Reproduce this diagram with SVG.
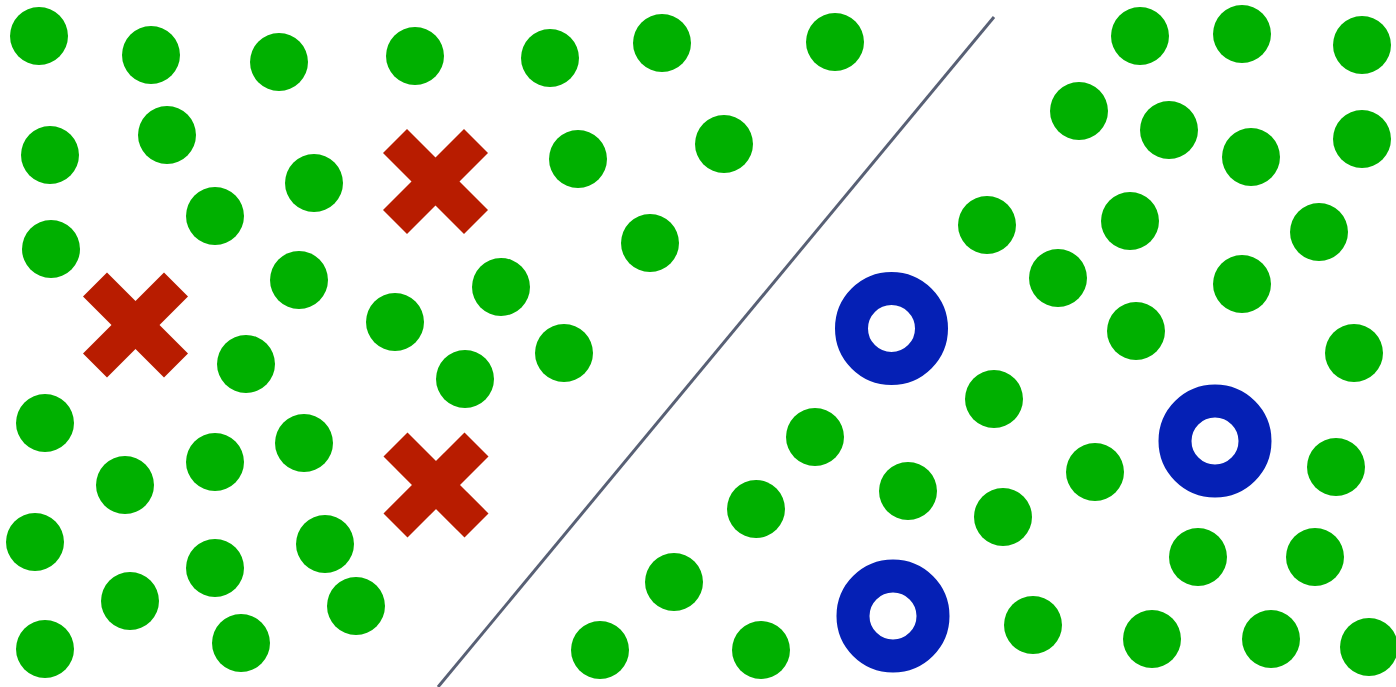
<svg xmlns="http://www.w3.org/2000/svg" width="1396" height="687" viewBox="0 0 1396 687">
<style>
.g{fill:#00b000}
.x{stroke:#b81c00;stroke-width:34;stroke-linecap:butt}
.o{fill:none;stroke:#0520b5;stroke-width:33}
.sep{stroke:#586075;stroke-width:3}
</style>
<defs>
<circle id="d" r="29" class="g"/>
<g id="xm"><line class="x" x1="-40.5" y1="-40.5" x2="40.5" y2="40.5"/><line class="x" x1="40.5" y1="-40.5" x2="-40.5" y2="40.5"/></g>
<circle id="ring" r="40" class="o"/>
</defs>
<rect width="1396" height="687" fill="#fff"/>
<g id="green-dots">
<use href="#d" x="39" y="36"/><use href="#d" x="151" y="55"/><use href="#d" x="279" y="62"/><use href="#d" x="415" y="56"/><use href="#d" x="550" y="58"/><use href="#d" x="662" y="43"/><use href="#d" x="835" y="42"/><use href="#d" x="1140" y="36"/><use href="#d" x="1242" y="34"/><use href="#d" x="1362" y="45"/>
<use href="#d" x="50" y="155"/><use href="#d" x="167" y="135"/><use href="#d" x="314" y="183"/><use href="#d" x="578" y="159"/><use href="#d" x="724" y="144"/><use href="#d" x="1079" y="111"/><use href="#d" x="1169" y="130"/><use href="#d" x="1251" y="157"/><use href="#d" x="1362" y="139"/>
<use href="#d" x="215" y="216"/><use href="#d" x="51" y="249"/><use href="#d" x="299" y="280"/><use href="#d" x="501" y="287"/><use href="#d" x="650" y="243"/><use href="#d" x="987" y="225"/><use href="#d" x="1130" y="221"/><use href="#d" x="1319" y="232"/><use href="#d" x="1058" y="278"/><use href="#d" x="1242" y="284"/>
<use href="#d" x="395" y="322"/><use href="#d" x="246" y="364"/><use href="#d" x="465" y="379"/><use href="#d" x="564" y="353"/><use href="#d" x="1136" y="331"/><use href="#d" x="1354" y="353"/>
<use href="#d" x="45" y="423"/><use href="#d" x="994" y="399"/><use href="#d" x="815" y="437"/><use href="#d" x="215" y="462"/><use href="#d" x="304" y="443"/><use href="#d" x="125" y="485"/><use href="#d" x="908" y="491"/><use href="#d" x="1095" y="472"/><use href="#d" x="1336" y="467"/>
<use href="#d" x="35" y="542"/><use href="#d" x="325" y="544"/><use href="#d" x="756" y="509"/><use href="#d" x="1003" y="517"/><use href="#d" x="215" y="568"/><use href="#d" x="130" y="601"/><use href="#d" x="356" y="606"/><use href="#d" x="674" y="582"/><use href="#d" x="1198" y="557"/><use href="#d" x="1315" y="557"/>
<use href="#d" x="45" y="649"/><use href="#d" x="241" y="643"/><use href="#d" x="600" y="650"/><use href="#d" x="761" y="650"/><use href="#d" x="1033" y="625"/><use href="#d" x="1152" y="639"/><use href="#d" x="1271" y="639"/><use href="#d" x="1369" y="647"/>
</g>
<g id="crosses">
<use href="#xm" x="435.5" y="181.5"/><use href="#xm" x="135.5" y="325"/><use href="#xm" x="436" y="485"/>
</g>
<g id="rings">
<use href="#ring" x="891.5" y="328.5"/><use href="#ring" x="1215" y="441"/><use href="#ring" x="893" y="616"/>
</g>
<g id="separator">
<line class="sep" x1="994" y1="17" x2="438" y2="687"/>
</g>
</svg>
